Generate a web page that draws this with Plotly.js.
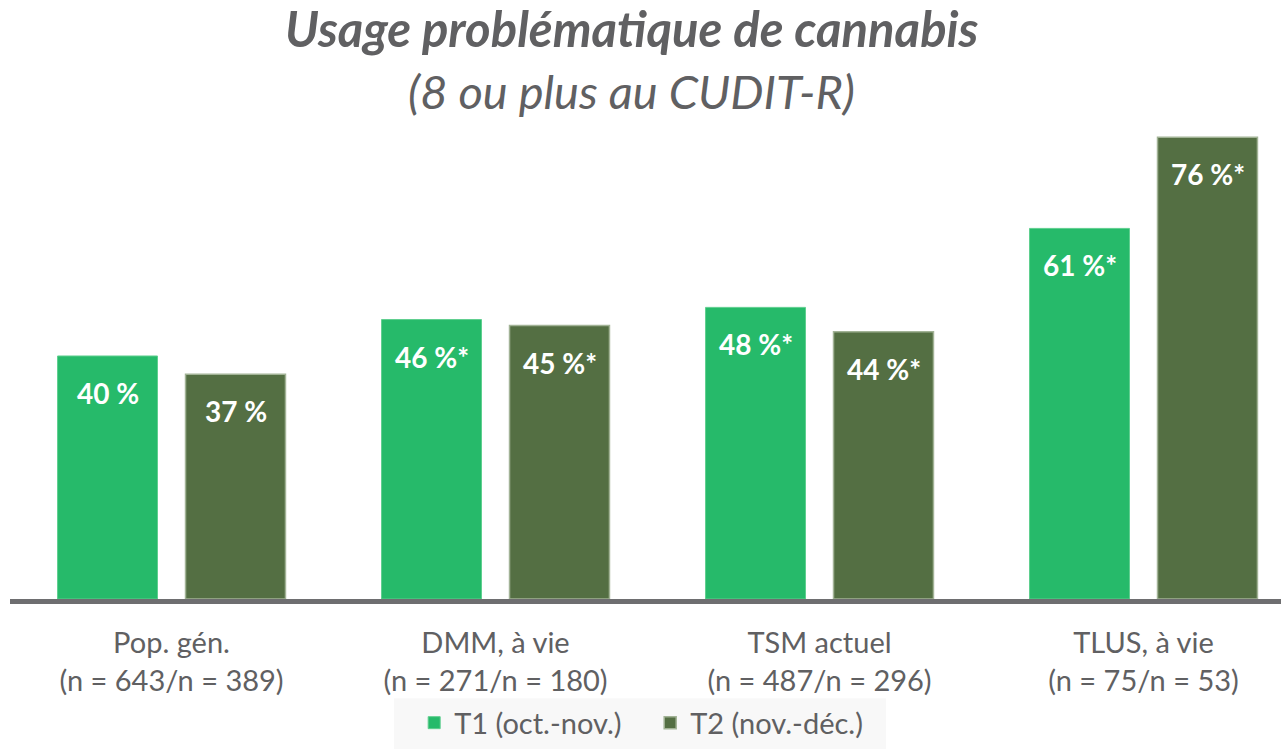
<!DOCTYPE html>
<html><head><meta charset="utf-8">
<script src="https://cdn.plot.ly/plotly-3.0.1.min.js"></script>
<style>html,body{margin:0;padding:0;background:#fff}#chart{width:1281px;height:749px}</style>
</head><body><div id="chart"></div>
<script>
const categories = ["Pop. gén.<br>(n = 643/n = 389)", "DMM, à vie<br>(n = 271/n = 180)", "TSM actuel<br>(n = 487/n = 296)", "TLUS, à vie<br>(n = 75/n = 53)"];
const seriesNames = ["T1 (oct.-nov.)", "T2 (nov.-déc.)"];
const t1Values = [40, 46, 48, 61];
const t2Values = [37, 45, 44, 76];
const t1Labels = ["40 %", "46 %*", "48 %*", "61 %*"];
const t2Labels = ["37 %", "45 %*", "44 %*", "76 %*"];

const FONT = "Lato, 'Open Sans', sans-serif";
const GRAY = "#606062";

const traces = [
  {type:"bar", name:seriesNames[0], x:categories, y:t1Values,
   marker:{color:"#26ba6a", line:{color:"#5fcf8f", width:1}}, hoverinfo:"skip"},
  {type:"bar", name:seriesNames[1], x:categories, y:t2Values,
   marker:{color:"#546f43", line:{color:"#a2b396", width:1.5}}, hoverinfo:"skip"}
];

const annotations = [];
categories.forEach((c,i)=>{
  annotations.push({x:c, y:t1Values[i], xref:"x", yref:"y", text:t1Labels[i], showarrow:false,
    xshift:-64, yshift:-37, font:{family:FONT, size:28, color:"#ffffff", weight:"bold"}});
  annotations.push({x:c, y:t2Values[i], xref:"x", yref:"y", text:t2Labels[i], showarrow:false,
    xshift:64, yshift:-37, font:{family:FONT, size:28, color:"#ffffff", weight:"bold"}});
});
annotations.push({xref:"paper", yref:"paper", x:0.489, y:1, yanchor:"middle", yshift:102, showarrow:false,
  text:"<b><i>Usage problématique de cannabis</i></b>", font:{family:FONT, size:49, color:GRAY}});
annotations.push({xref:"paper", yref:"paper", x:0.489, y:1, yanchor:"middle", yshift:39, showarrow:false,
  text:"<i>(8 ou plus au CUDIT-R)</i>", font:{family:FONT, size:47, color:GRAY}});

const layout = {
  width:1281, height:749,
  margin:{l:10, r:0, t:130, b:150},
  paper_bgcolor:"#ffffff", plot_bgcolor:"#ffffff",
  barmode:"group", bargap:0.21, bargroupgap:0.219,
  showlegend:true,
  legend:{orientation:"h", x:0.318, xanchor:"left", yref:"container", y:0.069, yanchor:"top",
    bgcolor:"rgba(0,0,0,0)", font:{family:FONT, size:29, color:GRAY}, entrywidth:191, entrywidthmode:"pixels",
    itemwidth:30, traceorder:"normal"},
  shapes:[{type:"rect", xref:"paper", yref:"paper", x0:0.3021, x1:0.6892, y0:-0.3226, y1:-0.2115,
    fillcolor:"#f8f8f8", line:{width:0}, layer:"below"}],
  xaxis:{range:[-0.4985, 3.4244], showline:true, linecolor:"#6e6e70", linewidth:5,
    ticks:"", ticklabelstandoff:14, tickfont:{family:FONT, size:29, color:GRAY}, showgrid:false, zeroline:false, fixedrange:true},
  yaxis:{range:[0, 77.2], visible:false, showgrid:false, zeroline:false, fixedrange:true},
  annotations:annotations
};
Plotly.newPlot("chart", traces, layout, {displayModeBar:false, staticPlot:true});
</script></body></html>
